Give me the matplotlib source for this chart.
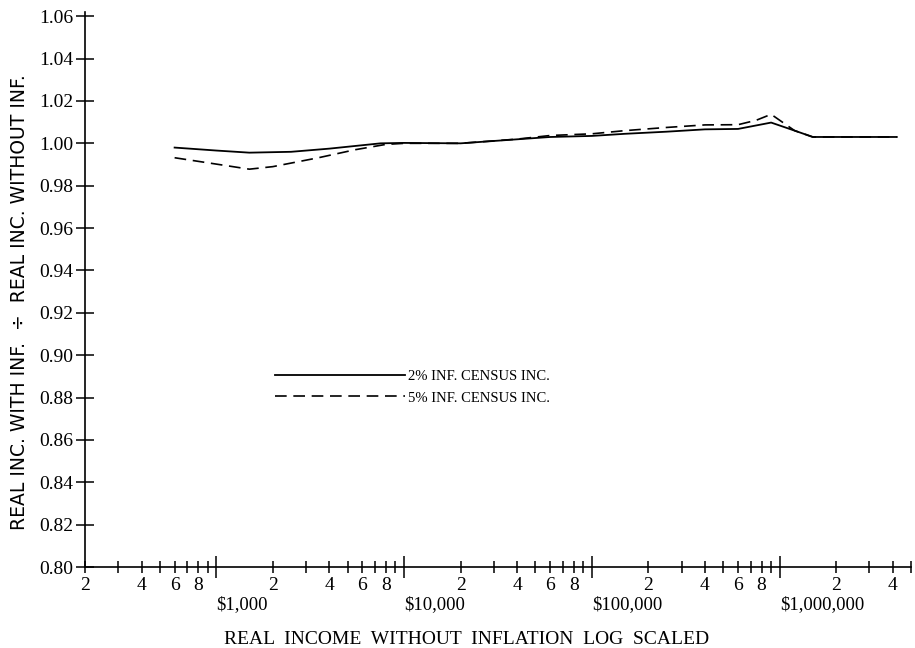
import numpy as np
import matplotlib
matplotlib.use("Agg")
import matplotlib.pyplot as plt
from matplotlib.ticker import FixedLocator

# real income without inflation (dollars)
income_2 = [600, 1000, 1500, 2500, 4000, 7500, 10000, 20000, 40000, 60000,
            100000, 150000, 250000, 400000, 600000, 900000, 1200000,
            1500000, 2500000, 4200000]
ratio_2 = [0.998, 0.9966, 0.9956, 0.996, 0.9975, 1.000, 1.0002, 1.000,
           1.0019, 1.003, 1.0035, 1.0045, 1.0055, 1.0066, 1.0068, 1.0098,
           1.006, 1.003, 1.003, 1.003]

income_5 = [600, 1000, 1500, 2000, 3500, 5500, 8000, 10000, 20000, 40000,
            60000, 100000, 150000, 250000, 400000, 600000, 750000, 900000,
            1200000, 1500000, 2500000, 4200000]
ratio_5 = [0.9932, 0.9902, 0.9878, 0.989, 0.9932, 0.997, 0.9995, 1.000,
           1.000, 1.002, 1.0037, 1.0045, 1.006, 1.0075, 1.0087, 1.0088,
           1.0109, 1.0137, 1.006, 1.003, 1.003, 1.003]

labels = ["2% INF. CENSUS INC.", "5% INF. CENSUS INC."]

y_ticks = [0.80, 0.82, 0.84, 0.86, 0.88, 0.90, 0.92, 0.94, 0.96, 0.98,
           1.00, 1.02, 1.04, 1.06]
decades = [1000, 10000, 100000, 1000000]
decade_labels = ["$1,000", "$10,000", "$100,000", "$1,000,000"]

serif = "Liberation Serif"

fig = plt.figure(figsize=(9.15, 6.48), dpi=100)
ax = fig.add_axes([85 / 915, (648 - 567) / 648, 826 / 915, (567 - 12) / 648])

ax.plot(income_2, ratio_2, color="black", lw=1.3, label=labels[0])
ax.plot(income_5, ratio_5, color="black", lw=1.2, dashes=(7, 4),
        label=labels[1])

ax.set_xscale("log")
ax.set_xlim(200, 5e6)
ax.set_ylim(0.80, 1.062)

for s in ["top", "right"]:
    ax.spines[s].set_visible(False)
ax.spines["left"].set_linewidth(1.2)
ax.spines["bottom"].set_linewidth(1.2)

# y axis
ax.set_yticks(y_ticks)
ax.set_yticklabels(["%.2f" % v for v in y_ticks], fontfamily=serif,
                   fontsize=14)
ax.tick_params(axis="y", direction="inout", length=13, width=1.1, pad=2)

# x axis: decades as major ticks, 2..9 as minor ticks
minor = []
minor_lab = []
for d in [100] + decades:
    for k in range(2, 10):
        v = d * k
        if 200 <= v <= 5e6:
            minor.append(v)
            minor_lab.append(str(k) if k % 2 == 0 else "")
ax.xaxis.set_major_locator(FixedLocator(decades))
ax.set_xticklabels(decade_labels, fontfamily=serif, fontsize=13.5, ha="left")
ax.xaxis.set_minor_locator(FixedLocator(minor))
ax.set_xticklabels(minor_lab, minor=True, fontfamily=serif, fontsize=14)
ax.tick_params(axis="x", which="major", direction="inout", length=16,
               width=1.1, pad=13)
ax.tick_params(axis="x", which="minor", direction="inout", length=9,
               width=1.1, pad=3)

ax.set_xlabel("REAL  INCOME  WITHOUT  INFLATION  LOG  SCALED",
              fontfamily=serif, fontsize=14)
ax.xaxis.set_label_coords(0.462, -0.115)
ax.set_ylabel("REAL INC. WITH INF.  \u00f7  REAL INC. WITHOUT INF.",
              fontfamily="DejaVu Sans", fontsize=13.5)
ax.yaxis.set_label_coords(-0.068, 0.477)

ax.legend(loc="center left", bbox_to_anchor=(275 / 915, 1 - 387 / 648),
          bbox_transform=fig.transFigure, frameon=False, handlelength=8.9,
          handletextpad=0.2, borderpad=0, borderaxespad=0,
          labelspacing=0.6, prop={"family": serif, "size": 10.5})

fig.savefig("out.png", dpi=100)
